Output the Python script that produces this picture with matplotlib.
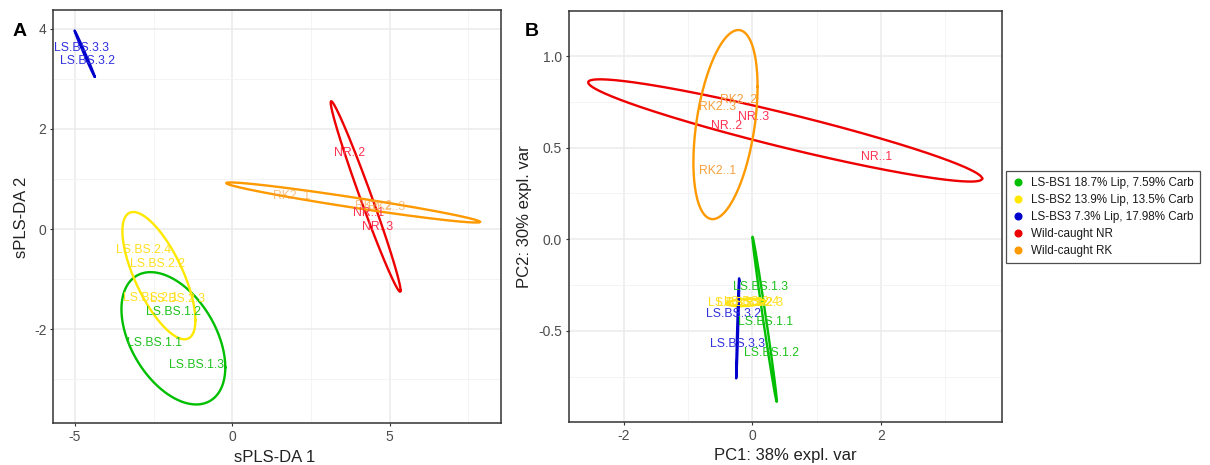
import numpy as np
import matplotlib
matplotlib.use("Agg")
import matplotlib.pyplot as plt
from matplotlib.lines import Line2D

plt.rcParams['font.family'] = ['Liberation Sans', 'DejaVu Sans']
plt.rcParams['axes.unicode_minus'] = False

# groups / colours
groups = ["LS-BS1 18.7% Lip, 7.59% Carb", "LS-BS2 13.9% Lip, 13.5% Carb",
          "LS-BS3 7.3% Lip, 17.98% Carb", "Wild-caught NR", "Wild-caught RK"]
line_cols = ["#00bf00", "#ffe800", "#0000cd", "#ee0000", "#ff9900"]
text_cols = ["#1fc21f", "#ffe020", "#3030dd", "#ff3050", "#f5a040"]

# panel A (sPLS-DA) ellipses: centre, half extents, correlation
a_cx = [-1.87, -2.33, -4.69, 4.24, 3.84]
a_cy = [-2.18, -0.93, 3.50, 0.65, 0.53]
a_sx = [1.65, 1.16, 0.32, 1.11, 4.03]
a_sy = [1.32, 1.27, 0.46, 1.90, 0.40]
a_rho = [-0.44, -0.70, -0.997, -0.985, -0.967]

# panel A sample labels
a_lab = ["LS.BS.3.3", "LS.BS.3.2", "NR..2", "NR..1", "NR..3", "RK2..1", "RK2..2", "RK2..3",
         "LS.BS.2.4", "LS.BS.2.2", "LS.BS.2.1", "LS.BS.2.3",
         "LS.BS.1.2", "LS.BS.1.1", "LS.BS.1.3"]
a_lx = [-4.79, -4.61, 3.72, 4.33, 4.62, 1.89, 4.50, 4.91,
        -2.82, -2.39, -2.60, -1.75, -1.86, -2.48, -1.12]
a_ly = [3.62, 3.35, 1.51, 0.31, 0.05, 0.66, 0.45, 0.43,
        -0.42, -0.69, -1.38, -1.40, -1.65, -2.28, -2.71]
a_lg = [2, 2, 3, 3, 3, 4, 4, 4, 1, 1, 1, 1, 0, 0, 0]

# panel B (PCA) ellipses
b_cx = [0.19, -0.10, -0.23, 0.51, -0.42]
b_cy = [-0.436, -0.345, -0.486, 0.594, 0.626]
b_sx = [0.19, 0.30, 0.024, 3.07, 0.50]
b_sy = [0.45, 0.02, 0.273, 0.279, 0.516]
b_rho = [-0.992, 0.3, 0.95, -0.94, 0.4]

# panel B sample labels
b_lab = ["RK2..3", "RK2..2", "NR..3", "NR..2", "NR..1", "RK2..1",
         "LS.BS.1.3", "LS.BS.2.1", "LS.BS.2.2", "LS.BS.2.4", "LS.BS.2.3",
         "LS.BS.3.2", "LS.BS.1.1", "LS.BS.3.3", "LS.BS.1.2"]
b_lx = [-0.55, -0.22, 0.02, -0.41, 1.93, -0.54,
        0.12, -0.27, -0.12, -0.02, 0.05, -0.30, 0.20, -0.23, 0.29]
b_ly = [0.72, 0.76, 0.67, 0.62, 0.45, 0.37,
        -0.26, -0.345, -0.35, -0.34, -0.35, -0.41, -0.45, -0.57, -0.62]
b_lg = [4, 4, 3, 3, 3, 4, 0, 1, 1, 1, 1, 2, 0, 2, 0]


def ellipse(cx, cy, sx, sy, rho):
    t = np.linspace(0, 2 * np.pi, 300)
    x = cx + sx * np.cos(t)
    y = cy + sy * (rho * np.cos(t) + np.sqrt(1 - rho ** 2) * np.sin(t))
    return x, y


def style(ax, xlim, ylim, xmaj, ymaj, xmin, ymin):
    ax.set_xlim(*xlim)
    ax.set_ylim(*ylim)
    ax.set_xticks(xmaj)
    ax.set_yticks(ymaj)
    ax.set_xticks(xmin, minor=True)
    ax.set_yticks(ymin, minor=True)
    ax.grid(which='major', color='#ebebeb', lw=1.1)
    ax.grid(which='minor', color='#f2f2f2', lw=0.6)
    ax.set_axisbelow(True)
    ax.tick_params(which='major', length=2.5, width=0.8, color='#333333',
                   labelsize=10, labelcolor='#4d4d4d', pad=2.5)
    ax.tick_params(which='minor', length=0)
    for s in ax.spines.values():
        s.set_color('#333333')
        s.set_linewidth(1.1)


fig = plt.figure(figsize=(12.1, 4.65), dpi=100)
axA = fig.add_axes([0.0442, 0.0903, 0.3698, 0.8882])
axB = fig.add_axes([0.4702, 0.0925, 0.3579, 0.8835])

for i in range(5):
    x, y = ellipse(a_cx[i], a_cy[i], a_sx[i], a_sy[i], a_rho[i])
    axA.plot(x, y, color=line_cols[i], lw=1.7)
    x, y = ellipse(b_cx[i], b_cy[i], b_sx[i], b_sy[i], b_rho[i])
    axB.plot(x, y, color=line_cols[i], lw=1.7)

for lab, x, y, g in zip(a_lab, a_lx, a_ly, a_lg):
    axA.text(x, y, lab, color=text_cols[g], fontsize=8.8, ha='center', va='center',
             alpha=0.65 if g == 4 else 1)
for lab, x, y, g in zip(b_lab, b_lx, b_ly, b_lg):
    axB.text(x, y, lab, color=text_cols[g], fontsize=8.8, ha='center', va='center')

style(axA, (-5.68, 8.54), (-3.87, 4.37), [-5, 0, 5], [-2, 0, 2, 4],
      [-2.5, 2.5, 7.5], [-3, -1, 1, 3])
style(axB, (-2.86, 3.89), (-0.997, 1.245), [-2, 0, 2], [-0.5, 0.0, 0.5, 1.0],
      [-1, 1, 3], [-0.75, -0.25, 0.25, 0.75])
axB.set_yticklabels(["-0.5", "0.0", "0.5", "1.0"])

# axis titles and panel letters
fig.text(275 / 1210, 1 - 457 / 465, "sPLS-DA 1", fontsize=12, color='#222222', ha='center', va='center')
fig.text(21.7 / 1210, 1 - 217 / 465, "sPLS-DA 2", fontsize=12, color='#222222', ha='center', va='center', rotation=90)
fig.text(785 / 1210, 1 - 455 / 465, "PC1: 38% expl. var", fontsize=12, color='#222222', ha='center', va='center')
fig.text(525 / 1210, 1 - 216.5 / 465, "PC2: 30% expl. var", fontsize=12, color='#222222', ha='center', va='center', rotation=90)
fig.text(20 / 1210, 1 - 32 / 465, "A", fontsize=14, fontweight='bold', ha='center', va='center')
fig.text(532 / 1210, 1 - 31 / 465, "B", fontsize=14, fontweight='bold', ha='center', va='center')

handles = [Line2D([], [], ls='none', marker='o', ms=4.8, color=c) for c in line_cols]
leg = fig.legend(handles, groups, loc='upper left', bbox_to_anchor=(1006 / 1210, 1 - 171 / 465),
                 frameon=True, fancybox=False, edgecolor='#222222', fontsize=8.4,
                 handlelength=1.0, handletextpad=0.6, labelspacing=0.42, borderpad=0.55,
                 borderaxespad=0)
leg.get_frame().set_linewidth(0.9)
for t in leg.get_texts():
    t.set_color('#1a1a1a')

fig.savefig("out.png", dpi=100)
